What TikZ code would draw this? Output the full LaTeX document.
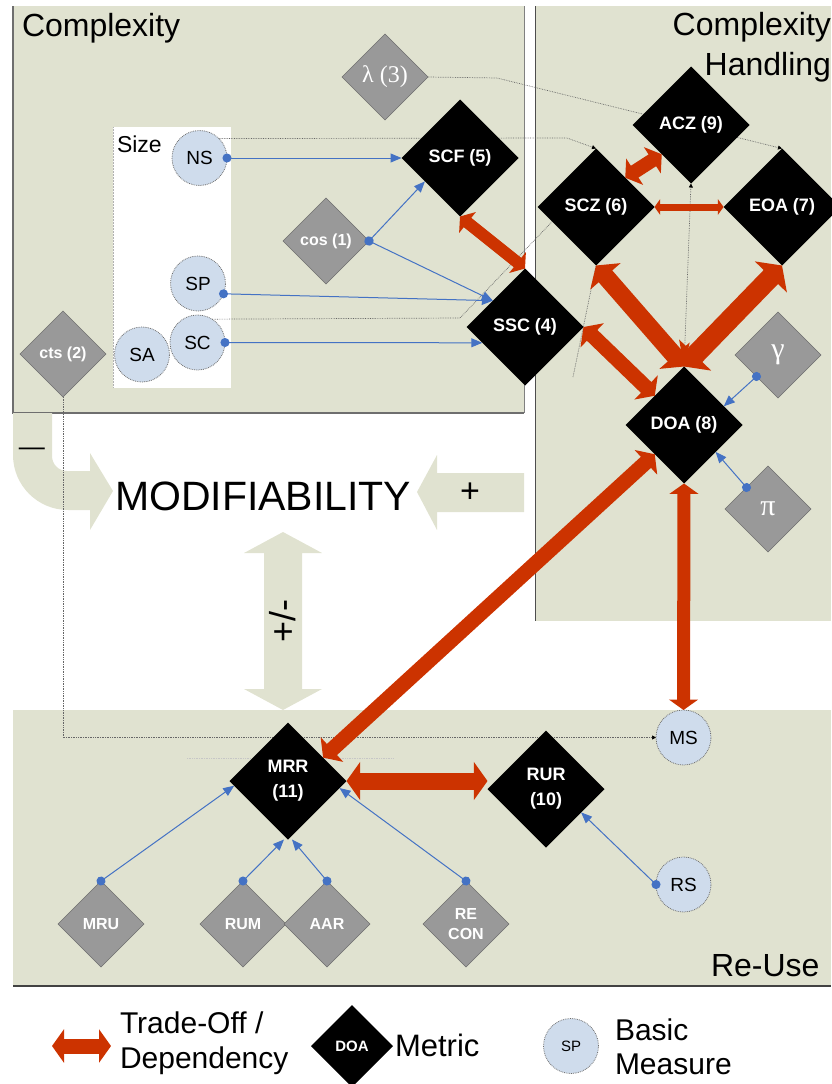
\documentclass[tikz,border=0pt]{standalone}
\usepackage{fontspec}
\usepackage{graphicx}
\setmainfont{Liberation Sans}
\newfontfamily\greekserif{Liberation Serif}
\usetikzlibrary{shapes.geometric,arrows.meta,calc}

\definecolor{panel}{HTML}{E0E2D0}
\definecolor{tred}{HTML}{CC3300}
\definecolor{feedblue}{HTML}{4472C4}
\definecolor{measure}{HTML}{CFDCEC}
\definecolor{inputgray}{HTML}{999999}
\definecolor{edgegray}{HTML}{6E6E6E}

\newcommand{\fsz}[1]{\fontsize{#1}{#1}\selectfont}

\pgfdeclarelayer{back}
\pgfdeclarelayer{mid}
\pgfsetlayers{back,mid,main}

\tikzset{
  metric/.style={diamond, fill=black, text=white, font=\bfseries\fsz{18},
    minimum width=117pt, minimum height=117pt, inner sep=0pt, outer sep=0pt, align=center},
  inputm/.style={diamond, fill=inputgray, draw=edgegray, line width=0.6pt, text=white,
    font=\bfseries\fsz{16}, minimum width=86pt, minimum height=86pt,
    inner sep=0pt, outer sep=0pt, align=center},
  basic/.style={circle, fill=measure, draw=edgegray, densely dotted, line width=0.8pt,
    minimum size=55pt, inner sep=0pt, outer sep=0pt, font=\fsz{19}},
  feed/.style={draw=feedblue, line width=1pt, shorten <=-4.5pt,
    {Circle[length=9pt]}-{Triangle[length=11pt,width=9pt]}},
  tradeoff/.style={draw=tred, line width=#1,
    {Triangle[length=0pt 0.8,width=0pt 2.2]}-{Triangle[length=0pt 0.8,width=0pt 2.2]}},
  link/.style={draw=gray!80!black, densely dotted, line width=0.7pt},
  linkhead/.style={link, -{Triangle[length=4pt,width=4pt,color=black]}},
  lbl/.style={inner sep=0pt, outer sep=0pt},
}

\begin{document}
\begin{tikzpicture}[x=1pt,y=-1pt]
\useasboundingbox (0,0) rectangle (831,1084);

% ---------- panels and background arrows ----------
\begin{pgfonlayer}{back}
  % Complexity
  \fill[panel] (13,6) rectangle (524,413);
  \draw[edgegray, line width=1.5pt] (13,6) -- (13,413) -- (524,413);
  \draw[gray, line width=0.8pt] (524,6) -- (524,413);
  % Complexity Handling
  \fill[panel] (535,6) rectangle (831,621);
  \draw[edgegray!70!black, line width=1pt] (535,6) -- (535,621);
  % Re-Use
  \fill[panel] (13,710) rectangle (831,986);
  \draw[edgegray!60!black, line width=1.5pt] (13,986) -- (831,986);
  % size group
  \fill[white] (113,127) rectangle (231,388);
  \draw[gray!60, densely dotted, line width=0.5pt] (113,127) -- (113,388);
  % influence arrows towards MODIFIABILITY
  \fill[panel] (13,413) -- (13,455) arc[start angle=180,end angle=90,radius=55]
     -- (90,510) -- (90,530) -- (113,491) -- (90,453) -- (90,471) -- (67,471)
     arc[start angle=90,end angle=180,radius=15] -- (52,413) -- cycle;
  \fill[panel] (524,473) -- (437,473) -- (437,455) -- (417,492) -- (437,530)
     -- (437,512) -- (524,512) -- cycle;
  \fill[panel] (283,532) -- (322,553) -- (302,553) -- (302,689) -- (322,689)
     -- (283,710) -- (244,689) -- (264,689) -- (264,553) -- (244,553) -- cycle;
\end{pgfonlayer}

% ---------- titles ----------
\node[lbl, font=\fsz{32}, anchor=base west] (tcx) at (22,36) {Complexity};
\node[lbl, font=\fsz{32}, anchor=base east] (tch1) at (831,35) {Complexity};
\node[lbl, font=\fsz{32}, anchor=base east] (tch2) at (831,75) {Handling};
\node[lbl, font=\fsz{23}, anchor=base west] (tsize) at (117,152) {Size};
\node[lbl, font=\fsz{41}, anchor=base west] (tmod) at (115,510) {MODIFIABILITY};
\node[lbl, font=\fsz{34}] (tplus) at (470,493) {+};
\node[lbl, font=\fsz{26}] (tminus) at (32,452) {\textemdash};
\node[lbl, font=\fsz{36}, rotate=90] (tpm) at (283,621) {+/-};
\node[lbl, font=\fsz{32}, anchor=base west] (treuse) at (711,976) {Re-Use};

% ---------- metrics ----------
\node[metric] (SCF) at (460,158) {SCF (5)};
\node[metric] (SCZ) at (596,207) {SCZ (6)};
\node[metric] (ACZ) at (691,125) {ACZ (9)};
\node[metric] (EOA) at (782,207) {EOA (7)};
\node[metric] (SSC) at (525,327) {SSC (4)};
\node[metric] (DOA) at (684,425) {DOA (8)};
\node[metric] (MRR) at (288,781) {MRR\\[7pt](11)};
\node[metric] (RUR) at (546,789) {RUR\\[7pt](10)};

% ---------- input metrics ----------
\node[inputm, font=\greekserif\fsz{24}] (lambda) at (385,77) {λ (3)};
\node[inputm] (cos) at (326,241) {cos (1)};
\node[inputm] (cts) at (63,354) {cts (2)};
\node[inputm, font=\greekserif\fsz{30}] (gamma) at (778,355) {γ};
\node[inputm, font=\greekserif\fsz{30}] (pi) at (768,509) {π};
\node[inputm] (MRU) at (101,924) {MRU};
\node[inputm] (RUM) at (243,924) {RUM};
\node[inputm] (AAR) at (327,924) {AAR};
\node[inputm] (RECON) at (466,924) {RE\\[4pt]CON};

% ---------- basic measures ----------
\node[basic] (NS) at (199.5,158) {NS};
\node[basic] (SP) at (198,283.5) {SP};
\node[basic] (SC) at (197.5,342.5) {SC};
\node[basic] (SA) at (142,354.5) {SA};
\node[basic] (MS) at (683.5,737.5) {MS};
\node[basic] (RS) at (683.5,884.5) {RS};

% ---------- dotted relations ----------
\coordinate (lk1) at (497,78);
\coordinate (lk2) at (567,138);
\coordinate (lk3) at (460,318);
\coordinate (lk4) at (573,377);
\coordinate (f1) at (187,758);
\coordinate (f2) at (393,758);
\begin{pgfonlayer}{mid}
  \draw[linkhead] (lambda.east) -- (lk1) -- (EOA.north);
  \draw[linkhead] (NS.north east) -- (lk2) -- (SCZ.north);
  \draw[link] (SC.58) -- (lk3) -- ($(SCZ.west)!0.25!(SCZ.south)$);
  \draw[linkhead] (DOA.north) -- (ACZ.south);
  \draw[link] (lk4) -- (SCZ.south);
  \draw[linkhead] (cts.south) |- (MS.west);
  \draw[link, draw=gray!45] (f1) -- (f2);
\end{pgfonlayer}

% ---------- inputs feeding metrics ----------
\draw[feed] (NS.east) -- (SCF.west);
\draw[feed] (cos.east) -- ($(SCF.west)!0.4!(SCF.south)$);
\draw[feed] (cos.east) -- ($(SSC.west)!0.45!(SSC.north)$);
\draw[feed] (SP.-22) -- ($(SSC.west)!0.45!(SSC.north)$);
\draw[feed] (SC.east) -- ($(SSC.west)!0.27!(SSC.south)$);
\draw[feed] ($(gamma.west)!0.5!(gamma.south)$) -- ($(DOA.north)!0.68!(DOA.east)$);
\draw[feed] ($(pi.west)!0.5!(pi.north)$) -- ($(DOA.east)!0.46!(DOA.south)$);
\draw[feed] (MRU.north) -- ($(MRR.west)!0.08!(MRR.south)$);
\draw[feed] (RUM.north) -- ($(MRR.south)+(-4,0)$);
\draw[feed] (AAR.north) -- ($(MRR.south)+(4,0)$);
\draw[feed] (RECON.north) -- ($(MRR.east)!0.12!(MRR.south)$);
\draw[feed] (RS.west) -- ($(RUR.east)!0.4!(RUR.south)$);

% ---------- trade-offs / dependencies ----------
\draw[tradeoff=12pt] (SCF.south) -- (SSC.north);
\draw[tradeoff=14pt] ($(ACZ.west)!0.5!(ACZ.south)$) -- ($(SCZ.north)!0.5!(SCZ.east)$);
\draw[tradeoff=7pt] (SCZ.east) -- (EOA.west);
\draw[tradeoff=18pt] (SCZ.south) -- (DOA.north);
\draw[tradeoff=20pt] (EOA.south) -- (DOA.north);
\draw[tradeoff=15pt] (SSC.east) -- ($(DOA.west)!0.5!(DOA.north)$);
\draw[tradeoff=15pt] ($(DOA.west)!0.5!(DOA.south)$) -- ($(MRR.north)!0.6!(MRR.east)$);
\draw[tradeoff=13pt] (DOA.south) -- (MS.north);
\draw[tradeoff=17pt] (MRR.east) -- (RUR.west |- MRR.east);

% ---------- legend ----------
\coordinate (la) at (52,1046);
\coordinate (lb) at (111,1046);
\draw[tradeoff=15pt] (la) -- (lb);
\node[lbl, font=\fsz{30}, anchor=base west] (lt1) at (120,1033) {Trade-Off /};
\node[lbl, font=\fsz{30}, anchor=base west] (lt2) at (120,1068) {Dependency};
\node[metric, minimum width=82pt, minimum height=82pt, font=\bfseries\fsz{15}] (lm) at (352,1046) {DOA};
\node[lbl, font=\fsz{31}, anchor=base west] (lt3) at (395,1056) {Metric};
\node[basic, font=\fsz{15}] (lsp) at (571,1046) {SP};
\node[lbl, font=\fsz{30}, anchor=base west] (lt4) at (615,1040) {Basic};
\node[lbl, font=\fsz{30}, anchor=base west] (lt5) at (615,1074) {Measure};
\end{tikzpicture}
\end{document}
